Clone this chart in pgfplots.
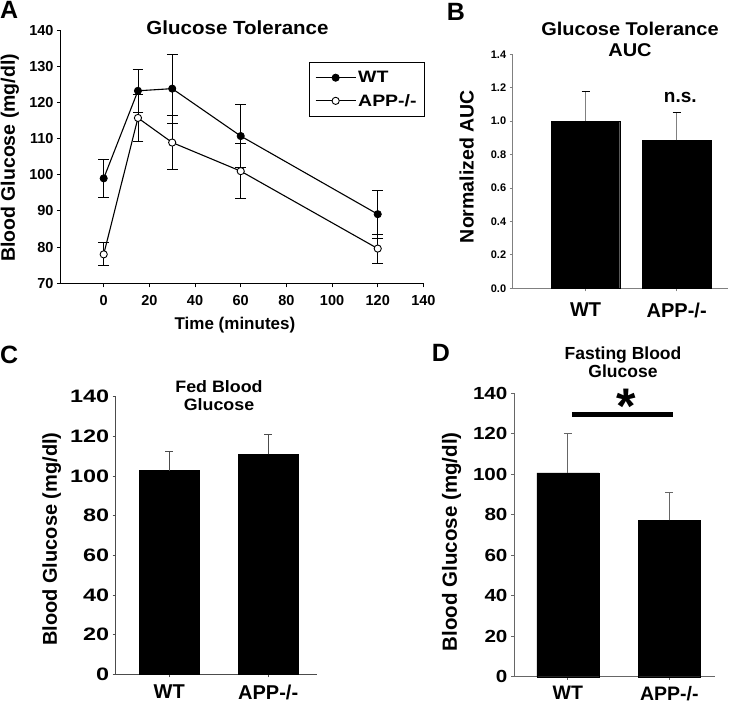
\documentclass[border=0pt]{standalone}
\usepackage{pgfplots}
\pgfplotsset{compat=1.18}
\usepackage{fontspec}
\setmainfont{Liberation Sans}
\newfontfamily\sfA{Liberation Sans}[FakeStretch=1.08]
\newfontfamily\sfB{Liberation Sans}[FakeStretch=1.3]
\newfontfamily\sfC{Liberation Sans}[FakeStretch=1.18]
\newcommand{\fs}[1]{\fontsize{#1}{#1}\selectfont\bfseries}
\pgfplotstableread{
x y e
0 99.0 5.3
15 123.2 6.0
30 123.8 9.5
60 110.7 8.8
120 89.1 6.6
}\wtdata
\pgfplotstableread{
x y e
0 78.0 3.2
15 115.7 6.4
30 108.9 7.5
60 101.0 7.6
120 79.6 4.0
}\appdata
\pgfplotstableread{
x y e
0 1.000 0.175
1 0.887 0.166
}\aucdata
\pgfplotstableread{
x y e
0 102.7 9.6
1 110.9 10.1
}\feddata
\pgfplotstableread{
x y e
0 100.7 19.5
1 77.2 14.0
}\fastdata
\pgfplotsset{
  panel/.style={
    scale only axis, clip=false,
    axis x line*=bottom, axis y line*=left,
    axis line style={-},
    tick align=outside,
    /pgf/number format/assume math mode=true,
  },
}
\begin{document}
\bfseries
\begin{tikzpicture}
\path[use as bounding box] (0pt,0pt) rectangle (729pt,-705pt);
% ---------------- Panel A
\begin{axis}[panel,
  at={(61pt,-283.3pt)}, anchor=south west,
  width=362.4pt, height=253.3pt,
  xmin=-18.7, xmax=140, ymin=70, ymax=140,
  xtick={0,20,...,140}, ytick={70,80,...,140},
  major tick length=4pt,
  axis line style={black, line width=1pt},
  tick style={black, line width=1pt},
  yticklabel style={font=\fs{14.5}},
  xticklabel style={font=\fs{14.5}, yshift=-5pt},
  xlabel={Time (minutes)}, ylabel={Blood Glucose (mg/dl)},
  xlabel style={font=\fs{17}, at={(rel axis cs:0.48,-0.184)}, anchor=base},
  ylabel style={font=\fs{19.5}, at={(rel axis cs:-0.141,0.495)}, anchor=center},
  legend style={at={(rel axis cs:1.005,0.875)}, anchor=north east,
    draw=black, line width=1.2pt, font=\sfC\fs{16.5}, row sep=6pt,
    inner xsep=6pt, inner ysep=7pt},
  legend cell align=left,
  legend image code/.code={\draw[#1, mark repeat=2, mark phase=2] plot coordinates {(0pt,0pt) (20pt,0pt) (40pt,0pt)};},
]
\addplot[black, line width=1.1pt, mark=*, mark size=3.6pt,
  mark options={fill=black, draw=black, line width=0.8pt},
  error bars/.cd, y dir=both, y explicit,
  error bar style={black, line width=0.9pt},
  error mark options={rotate=90, draw=black, mark size=5.3pt, line width=0.9pt}]
  table[x=x, y=y, y error=e] {\wtdata};
\addlegendentry{WT}
\addplot[black, line width=1.1pt, mark=*, mark size=3.6pt,
  mark options={fill=white, draw=black, line width=0.9pt},
  error bars/.cd, y dir=both, y explicit,
  error bar style={black, line width=0.9pt},
  error mark options={rotate=90, draw=black, mark size=5.3pt, line width=0.9pt}]
  table[x=x, y=y, y error=e] {\appdata};
\addlegendentry{APP-/-}
\end{axis}
% ---------------- Panel B
\begin{axis}[panel,
  at={(512.7pt,-288.3pt)}, anchor=south west,
  width=215pt, height=234pt,
  xmin=-0.8, xmax=1.56, ymin=0, ymax=1.4,
  xtick={0,1}, xticklabels={WT, APP-/-},
  ytick={0,0.2,...,1.4},
  major tick length=3pt,
  axis line style={gray, line width=1pt},
  tick style={gray, line width=1pt},
  yticklabel style={font=\fs{11}, /pgf/number format/fixed, /pgf/number format/fixed zerofill, /pgf/number format/precision=1},
  xticklabel style={font=\fs{20}, yshift=-8pt},
  ylabel={Normalized AUC},
  ylabel style={font=\fs{19.5}, at={(rel axis cs:-0.214,0.52)}, anchor=center},
]
\addplot[ybar, bar width=0.75, bar shift=0pt, fill=black, draw=black,
  error bars/.cd, y dir=plus, y explicit,
  error bar style={gray, line width=1pt},
  error mark options={rotate=90, draw=black, mark size=4pt, line width=1pt}]
  table[x=x, y=y, y error=e] {\aucdata};
\node[font=\fs{19}, anchor=base] at (axis cs:1.04,1.11) {n.s.};
\end{axis}
% ---------------- Panel C
\begin{axis}[panel,
  at={(115.7pt,-674.3pt)}, anchor=south west,
  width=201pt, height=277.6pt,
  xmin=-0.54, xmax=1.49, ymin=0, ymax=140,
  xtick={0,1}, xticklabels={WT, APP-/-},
  ytick={0,20,...,140},
  major tick length=3pt,
  axis line style={black!70, line width=0.8pt},
  tick style={black!70, line width=0.8pt},
  yticklabel style={font=\sfB\fs{18}},
  xticklabel style={font=\fs{20}, yshift=-4pt},
  ylabel={Blood Glucose (mg/dl)},
  ylabel style={font=\fs{20}, at={(rel axis cs:-0.318,0.487)}, anchor=center},
]
\addplot[ybar, bar width=0.606, bar shift=0pt, fill=black, draw=black,
  error bars/.cd, y dir=plus, y explicit,
  error bar style={black!70, line width=0.8pt},
  error mark options={rotate=90, draw=black!70, mark size=4pt, line width=0.8pt}]
  table[x=x, y=y, y error=e] {\feddata};
\end{axis}
% ---------------- Panel D
\begin{axis}[panel,
  at={(514pt,-676.7pt)}, anchor=south west,
  width=201pt, height=283.4pt,
  xmin=-0.53, xmax=1.45, ymin=0, ymax=140,
  xtick={0,1}, xticklabels={WT, APP-/-},
  ytick={0,20,...,140},
  major tick length=3pt,
  axis line style={black!60, line width=0.8pt},
  tick style={black!60, line width=0.8pt},
  yticklabel style={font=\sfC\fs{17.5}},
  xticklabel style={font=\fs{19.5}, yshift=-3pt},
  ylabel={Blood Glucose (mg/dl)},
  ylabel style={font=\fs{20.5}, at={(rel axis cs:-0.31,0.476)}, anchor=center},
]
\addplot[ybar, bar width=0.61, bar shift=0pt, fill=black, draw=black,
  error bars/.cd, y dir=plus, y explicit,
  error bar style={black!60, line width=0.8pt},
  error mark options={rotate=90, draw=black!60, mark size=4pt, line width=0.8pt}]
  table[x=x, y=y, y error=e] {\fastdata};
\addplot[black, line width=5.5pt, forget plot] coordinates {(0.04,129.5) (1.04,129.5)};
\node[font=\fs{50}, anchor=base, inner sep=0pt] at (axis cs:0.572,125) {*};
\end{axis}
% ---------------- titles and panel letters
\node[font=\sfA\fs{19}, anchor=base] at (237.5pt,-34.3pt) {Glucose Tolerance};
\node[font=\sfA\fs{18.5}, anchor=base] at (630pt,-35pt) {Glucose Tolerance};
\node[font=\sfA\fs{18.5}, anchor=base] at (630pt,-56.7pt) {AUC};
\node[font=\sfA\fs{16.5}, anchor=base] at (219pt,-392.7pt) {Fed Blood};
\node[font=\sfA\fs{16.5}, anchor=base] at (219pt,-410.7pt) {Glucose};
\node[font=\fs{17.5}, anchor=base] at (623pt,-359.3pt) {Fasting Blood};
\node[font=\fs{17.5}, anchor=base] at (623pt,-377.3pt) {Glucose};
\node[font=\fs{25}, anchor=base west, inner sep=0pt] at (0pt,-18.3pt) {A};
\node[font=\fs{25}, anchor=base west, inner sep=0pt] at (446.7pt,-20pt) {B};
\node[font=\fs{25}, anchor=base west, inner sep=0pt] at (0pt,-363.3pt) {C};
\node[font=\fs{25}, anchor=base west, inner sep=0pt] at (431.7pt,-361.7pt) {D};
\end{tikzpicture}
\end{document}
